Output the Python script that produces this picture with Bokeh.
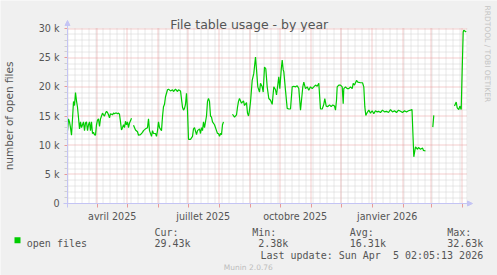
import math
import numpy as np
from bokeh.plotting import figure
from bokeh.models import (Range1d, FixedTicker, Label, Arrow, NormalHead,
                          BoxAnnotation, ColumnDataSource)
from bokeh.embed import file_html
from bokeh.resources import INLINE

# ---------------- data ----------------
START = np.datetime64("2025-03-02T07:00")   # left edge of the graph
SPAN_DAYS = 400                             # munin "by year" = 400 days
Y_MAX = 30000

# day offsets from START and daily average of open files (thousands)
day_a = list(range(0, 65))
val_a = [12.5, 14.5, 14.0, 13.0, 11.7, 14.5, 17.5, 16.8, 19.0, 17.6, 16.5, 14.7, 12.8,
         14.0, 13.0, 13.5, 14.0, 12.5, 13.8, 14.0, 12.5, 13.5, 14.0, 12.5, 14.0, 12.0,
         12.2, 11.8, 11.7, 13.5, 14.3, 14.5, 13.2, 14.5, 15.0, 15.5, 15.2, 15.0, 15.5,
         15.8, 15.6, 15.2, 14.7, 15.4, 15.3, 15.2, 15.5, 15.4, 15.5, 15.5, 15.4, 15.5,
         15.3, 14.0, 12.6, 13.0, 13.5, 13.0, 14.1, 13.5, 14.0, 13.0, 13.8, 14.2, 14.6]

day_b = [66, 68, 70, 71, 73, 75, 76, 78, 80, 81, 82, 84, 85, 86, 88, 89, 90, 91, 92, 94,
         95, 96, 97, 98, 100, 101, 103, 105, 106, 108, 110, 111, 113, 115, 116, 117, 118,
         119, 120, 121, 123, 125, 126, 127, 129, 130, 132, 133, 134, 135, 136, 137, 139,
         140, 141, 142, 143, 144, 145, 147, 149, 150, 151, 152, 153, 154, 155, 156]
val_b = [13.4, 12.6, 12.3, 11.7, 11.8, 12.2, 12.5, 12.8, 13.0, 14.5, 12.5, 11.5, 12.5,
         12.0, 12.0, 11.5, 12.5, 14.0, 13.0, 12.5, 14.9, 16.6, 17.0, 18.3, 19.5, 19.6,
         19.3, 19.5, 19.2, 19.6, 19.2, 19.5, 19.3, 16.5, 16.0, 16.3, 17.0, 18.9, 16.0,
         11.0, 11.0, 11.5, 12.8, 13.0, 11.8, 12.5, 12.8, 12.0, 13.0, 12.5, 14.0, 13.0,
         15.0, 17.5, 18.0, 17.5, 15.0, 14.8, 14.0, 13.5, 12.5, 12.0, 12.0, 11.5, 12.0,
         11.8, 13.5, 14.0]

day_c = [165, 167, 169, 170, 171, 172, 174, 176, 177, 179, 180, 181, 182, 183, 184.7,
         186.3, 188, 189, 190.3, 192, 193, 194.7, 195.7, 197, 198.3, 199.7, 201.3, 203,
         204.7, 206.3, 208, 209, 209.7, 211.3, 212.3, 213.7, 214.7, 215.7, 216.3, 218,
         219.7, 221.3, 223, 224.7, 226.3, 228, 229.7, 231.3, 233, 234, 235.3, 236.3, 238,
         239.7, 241.3, 243, 244.7, 246.3, 248, 249.7, 251.3, 253, 254.7, 256.3, 257.3,
         258.7, 260.3, 262, 263.7, 265.3, 267, 268, 269, 269.7, 271.3, 273, 274.7, 275.7,
         276.3, 278, 279.7, 281.3, 283, 284.7, 285.7, 287, 289, 290.3, 293, 295, 296.3,
         297.3, 298.3, 299.7, 301.3, 303, 304.7, 306.3, 308, 309.7, 311, 313, 315, 317,
         319, 321, 323, 325, 327, 329, 331, 333, 335, 337, 339, 341, 343, 344.5, 346.3,
         348, 350, 351, 353, 355, 356, 358]
val_c = [15.3, 14.8, 15.2, 16.5, 17.5, 18.0, 17.2, 17.6, 16.8, 17.3, 15.5, 15.0, 16.0,
         17.4, 21.1, 22.3, 25.1, 23.0, 20.0, 19.1, 20.6, 20.0, 19.1, 23.4, 23.1, 20.0,
         18.0, 17.7, 17.0, 20.0, 19.5, 18.6, 19.5, 21.7, 19.7, 22.9, 24.6, 22.9, 22.6,
         19.4, 16.3, 16.2, 16.2, 20.0, 20.1, 20.0, 20.2, 19.7, 16.0, 17.7, 20.0, 20.8,
         19.7, 20.0, 19.4, 20.0, 19.7, 20.0, 20.3, 20.1, 20.6, 16.2, 16.2, 17.0, 18.0,
         16.7, 16.6, 16.9, 16.6, 16.9, 16.7, 16.0, 17.7, 20.0, 20.3, 20.3, 20.0, 17.1,
         19.7, 20.0, 19.7, 19.7, 20.0, 19.7, 20.6, 20.3, 21.1, 20.8, 20.7, 20.7, 20.0,
         16.6, 15.1, 15.6, 16.0, 15.5, 15.9, 15.4, 15.9, 15.7, 15.8, 15.6, 16.0, 15.7,
         15.8, 15.6, 16.1, 15.7, 15.9, 15.6, 16.0, 15.8, 15.6, 15.9, 15.7, 15.9, 16.0,
         16.1, 8.0, 9.7, 9.3, 9.6, 9.3, 9.5, 9.1, 9.0]

day_d = [365.3, 366.3]
val_d = [13.1, 15.1]

day_e = [387, 388.7, 389.7, 391.3, 392.3, 393.7, 394.7, 395.7, 396.3, 398, 398.7]
val_e = [16.7, 17.4, 16.4, 16.1, 16.7, 16.1, 23.0, 29.4, 29.7, 29.5, 29.4]

month_starts = ["2025-04-01", "2025-05-01", "2025-06-01", "2025-07-01", "2025-08-01",
                "2025-09-01", "2025-10-01", "2025-11-01", "2025-12-01", "2026-01-01",
                "2026-02-01", "2026-03-01", "2026-04-01"]
month_label_dates = ["2025-04-16", "2025-07-16", "2025-10-16", "2026-01-16"]
month_labels = ["avril 2025", "juillet 2025", "octobre 2025", "janvier 2026"]

y_ticks = [0, 5000, 10000, 15000, 20000, 25000, 30000]
y_tick_labels = ["0", "5 k", "10 k", "15 k", "20 k", "25 k", "30 k"]
y_minor_step = 1000

legend_name = "open files"
stat_heads = ["Cur:", "Min:", "Avg:", "Max:"]
stat_values = ["29.43k", "2.38k", "16.31k", "32.63k"]
last_update = "Last update: Sun Apr \u00a05 02:05:13 2026"
title_text = "File table usage - by year"
watermark = "RRDTOOL / TOBI OETIKER"
munin_version = "Munin 2.0.76"

# ---------------- geometry (pixels) ----------------
W, H = 497, 275
PL, PT, PB = 67, 28, 203          # plot area: left, top, bottom (pixel rows)
K = Y_MAX / (PB - PT)             # value units per pixel

def days_from_start(d):
    return float((np.datetime64(d) - START) / np.timedelta64(1, "h")) / 24.0

def snap_x(d):   # put vertical grid lines on pixel centres
    px = PL + d
    return math.floor(px) + 0.5 - PL

def snap_y(v):
    py = PB - v / K
    return (PB - (math.floor(py) + 0.5)) * K

segments = [(day_a, val_a), (day_b, val_b), (day_c, val_c), (day_d, val_d), (day_e, val_e)]
xs, ys = [], []
for i, (dd, vv) in enumerate(segments):
    if i > 0:
        xs.append(dd[0] - 0.5)
        ys.append(np.nan)
    xs.extend(dd)
    ys.extend([v * 1000 for v in vv])
src = ColumnDataSource(dict(x=np.array(xs, dtype=float), y=np.array(ys, dtype=float)))

month_days = [days_from_start(d) for d in month_starts]
label_days = [days_from_start(d) for d in month_label_dates]
week_days = [days_from_start(d) for d in
             np.arange(np.datetime64("2025-03-03"), np.datetime64("2026-04-07"),
                       np.timedelta64(7, "D"))]
y_minor = [v for v in range(y_minor_step, Y_MAX, y_minor_step) if v not in y_ticks]

TEXT = "#555555"
MAJOR = "#e89a9a"
MINOR = "#d0d0d0"
AXIS = "#c4c4f4"
GREEN = "#00cc00"

p = figure(width=W, height=H, output_backend="svg", toolbar_location=None, title=None,
           x_range=Range1d(-PL, W - PL), y_range=Range1d(-(H - PB) * K, Y_MAX + PT * K),
           min_border=0, min_border_left=0, min_border_right=0, min_border_top=0,
           min_border_bottom=0, background_fill_color="#f0f0f0",
           border_fill_color="#f0f0f0", outline_line_color=None)
p.xgrid.visible = False
p.ygrid.visible = False

# white canvas of the graph
p.quad(left=[0], right=[SPAN_DAYS], bottom=[0], top=[Y_MAX], fill_color="#ffffff",
       line_color=None)

# grid lines (minor first, then major)
wx = [snap_x(d) for d in week_days if 0 < d < SPAN_DAYS]
p.segment(x0=wx, y0=[0] * len(wx), x1=wx, y1=[Y_MAX] * len(wx), line_color=MINOR,
          line_width=1, line_dash="1 1")
hy = [snap_y(v) for v in y_minor]
p.segment(x0=[0] * len(hy), y0=hy, x1=[SPAN_DAYS] * len(hy), y1=hy, line_color=MINOR,
          line_width=1, line_dash="1 1")
mx = [snap_x(d) for d in month_days if 0 < d < SPAN_DAYS]
p.segment(x0=mx, y0=[0] * len(mx), x1=mx, y1=[Y_MAX] * len(mx), line_color=MAJOR,
          line_width=1, line_dash="1 1")
my = [snap_y(v) for v in y_ticks[1:]]
p.segment(x0=[0] * len(my), y0=my, x1=[SPAN_DAYS] * len(my), y1=my, line_color=MAJOR,
          line_width=1, line_dash="1 1")

# x axis (drawn at value 0)
xa = p.xaxis[0]
xa.fixed_location = 0
xa.bounds = (0, SPAN_DAYS)
xa.ticker = FixedTicker(ticks=label_days, minor_ticks=month_days)
xa.major_label_overrides = {d: lab for d, lab in zip(label_days, month_labels)}
xa.major_tick_line_color = None
xa.major_tick_out = 0
xa.major_tick_in = 0
xa.minor_tick_line_color = MAJOR
xa.minor_tick_out = 4
xa.minor_tick_in = 0
xa.axis_line_color = None
xa.major_label_standoff = 3
xa.major_label_text_font = "DejaVu Sans"
xa.major_label_text_font_size = "9.6px"
xa.major_label_text_color = TEXT

# y axis (drawn at day 0)
ya = p.yaxis[0]
ya.fixed_location = 0
ya.bounds = (0, Y_MAX)
ya.ticker = FixedTicker(ticks=y_ticks, minor_ticks=y_minor)
ya.major_label_overrides = {t: lab for t, lab in zip(y_ticks, y_tick_labels)}
ya.major_tick_line_color = MAJOR
ya.major_tick_out = 3
ya.major_tick_in = 0
ya.minor_tick_line_color = MINOR
ya.minor_tick_out = 3
ya.minor_tick_in = 0
ya.axis_line_color = None
ya.major_label_standoff = 5
ya.major_label_text_font = "DejaVu Sans"
ya.major_label_text_font_size = "9.6px"
ya.major_label_text_color = TEXT
ya.axis_label = "number of open files"
ya.axis_label_text_font = "DejaVu Sans"
ya.axis_label_text_font_size = "10.5px"
ya.axis_label_text_font_style = "normal"
ya.axis_label_text_color = TEXT
ya.axis_label_standoff = 21

# axis lines with arrows
p.add_layout(Arrow(x_start=0, y_start=-4 * K, x_end=0, y_end=Y_MAX + 8 * K,
                   line_color=AXIS, line_width=1,
                   end=NormalHead(size=5, fill_color=AXIS, line_color=AXIS)))
p.add_layout(Arrow(x_start=-4, y_start=0, x_end=SPAN_DAYS + 5, y_end=0,
                   line_color=AXIS, line_width=1,
                   end=NormalHead(size=5, fill_color=AXIS, line_color=AXIS)))

# data
p.line("x", "y", source=src, line_color=GREEN, line_width=1.2)

def lab(text, cx, cy, size, font="DejaVu Sans Mono", color=TEXT, align="left",
        baseline="alphabetic", angle=0.0):
    p.add_layout(Label(x=cx, y=H - cy, x_units="screen", y_units="screen",
                       text=text, text_font=font, text_font_size=size, text_color=color,
                       text_align=align, text_baseline=baseline, angle=angle))

lab(title_text, 248.8, 24, "12.5px", font="DejaVu Sans", align="center")
lab(watermark, 487, 5, "7.5px", font="DejaVu Sans", color="#c4c4c4",
    baseline="middle", angle=-math.pi / 2)

# legend: green square + series name
p.add_layout(BoxAnnotation(left=14, right=20, bottom=H - 242.7, top=H - 236.7,
                           left_units="screen", right_units="screen",
                           bottom_units="screen", top_units="screen",
                           fill_color=GREEN, fill_alpha=1.0, line_color=None))
lab(legend_name, 26.3, 243.3, "10px")

stat_x = [154, 251.7, 349.3, 446.7]
stat_val_x = [154, 257.7, 349.3, 446.7]
for h, v, xh, xv in zip(stat_heads, stat_values, stat_x, stat_val_x):
    lab(h, xh, 231.7, "10px")
    lab(v, xv, 243.3, "10px")
lab(last_update, 482.7, 255, "10px", align="right")
lab(munin_version, 223.3, 266.7, "7.5px", font="DejaVu Sans", color="#bdbdbd")

open("out.html", "w").write(file_html(p, INLINE))
